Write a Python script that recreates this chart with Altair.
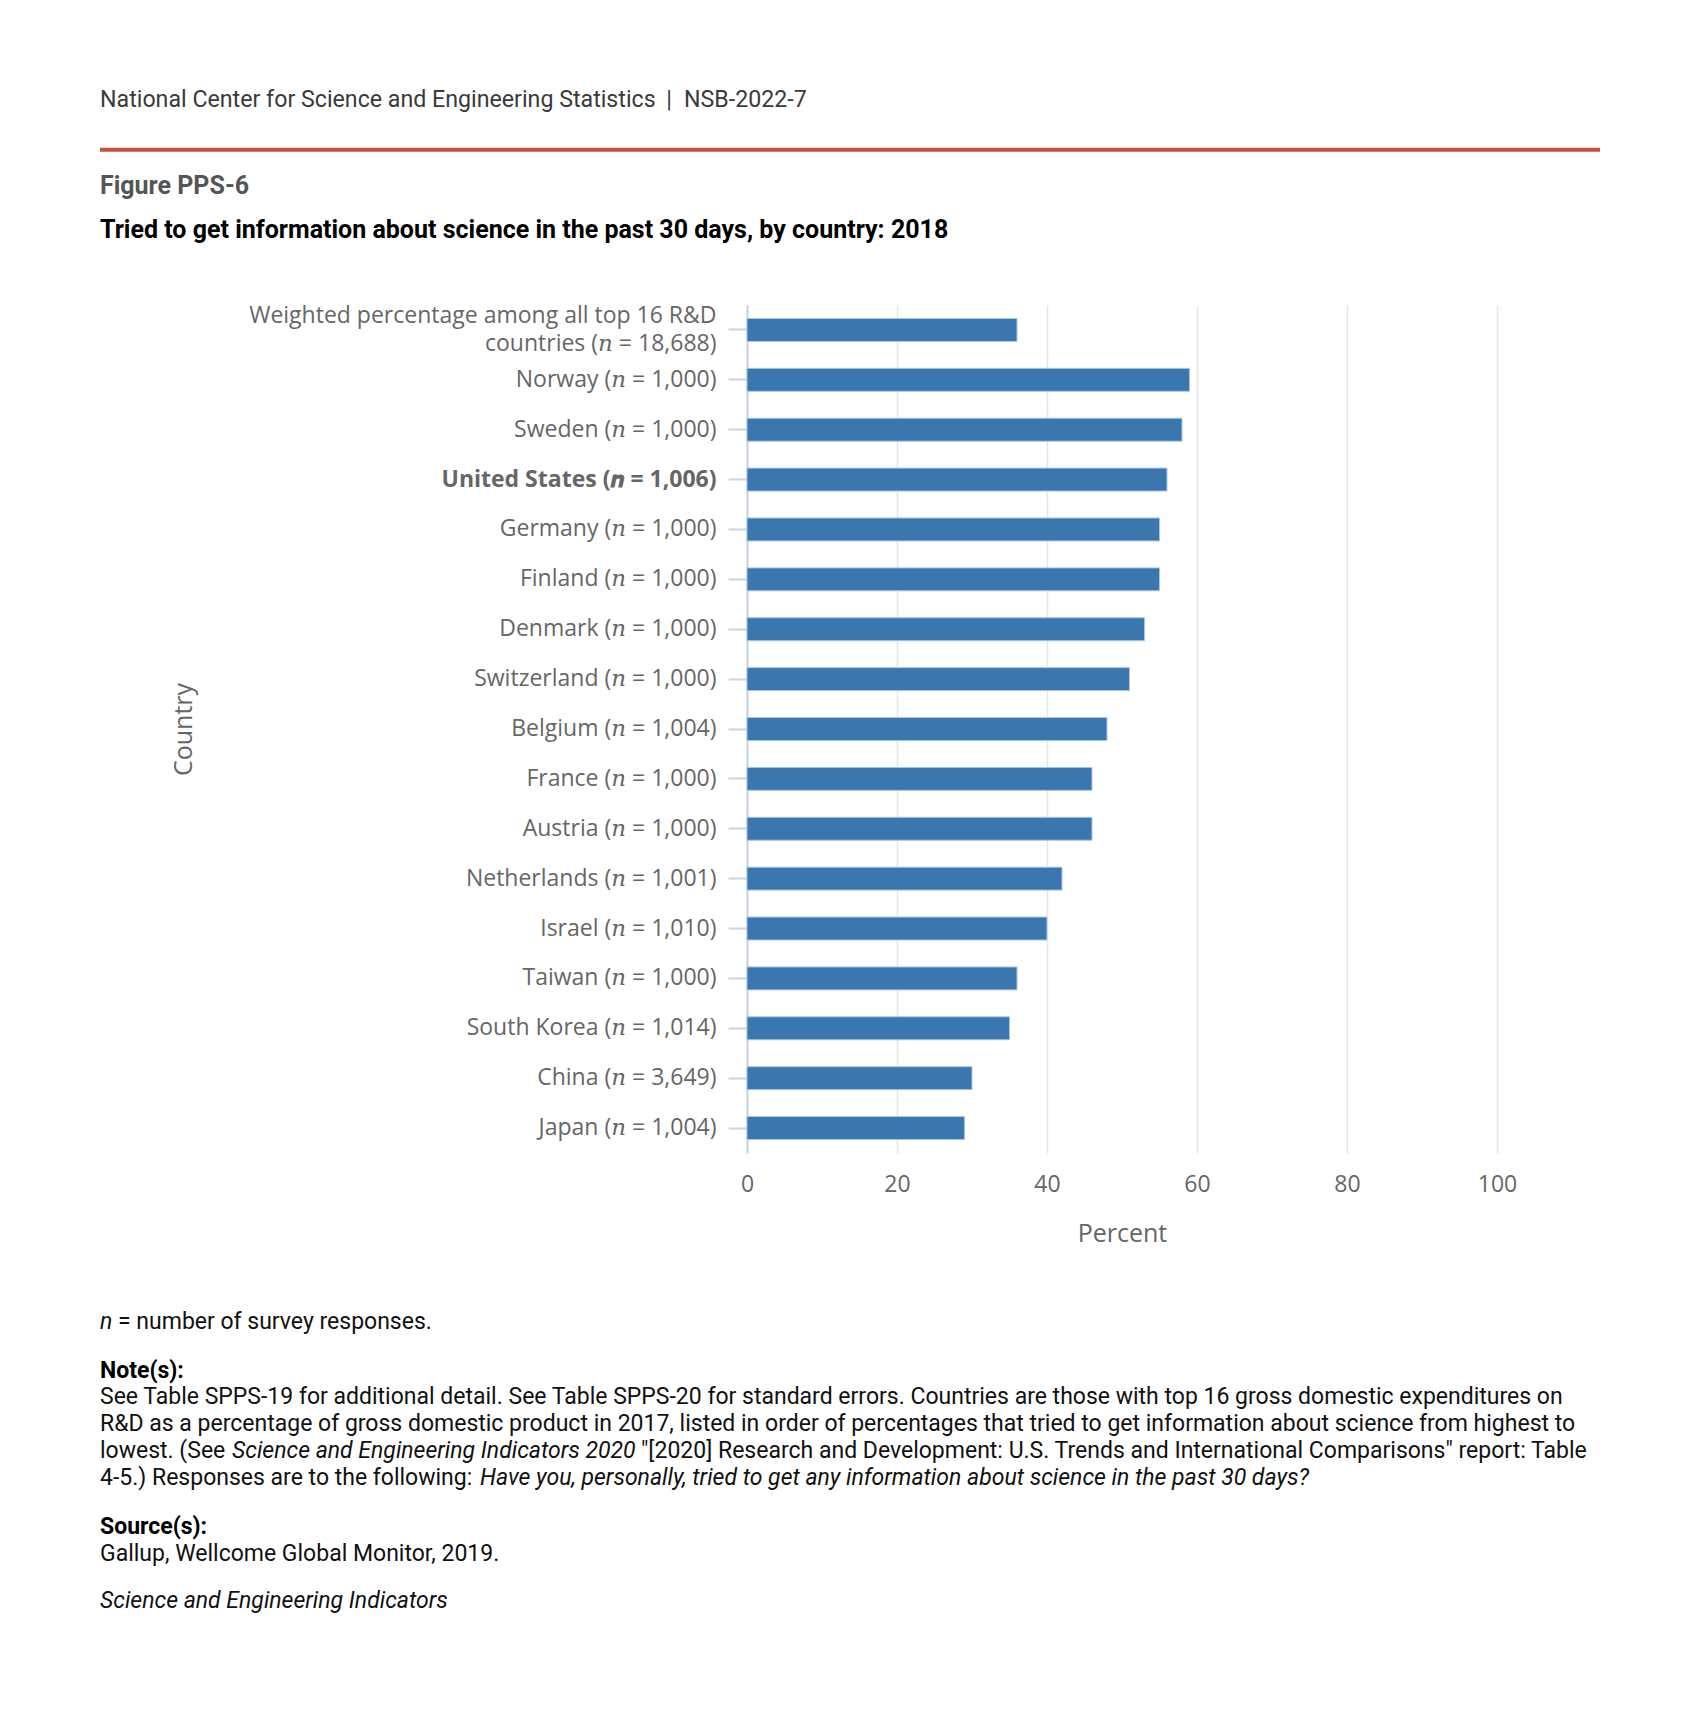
import altair as alt
import pandas as pd

countries = [
    "Weighted percentage among all top 16 R&D|countries (𝑛 = 18,688)",
    "Norway (𝑛 = 1,000)",
    "Sweden (𝑛 = 1,000)",
    "United States (𝒏 = 1,006)",
    "Germany (𝑛 = 1,000)",
    "Finland (𝑛 = 1,000)",
    "Denmark (𝑛 = 1,000)",
    "Switzerland (𝑛 = 1,000)",
    "Belgium (𝑛 = 1,004)",
    "France (𝑛 = 1,000)",
    "Austria (𝑛 = 1,000)",
    "Netherlands (𝑛 = 1,001)",
    "Israel (𝑛 = 1,010)",
    "Taiwan (𝑛 = 1,000)",
    "South Korea (𝑛 = 1,014)",
    "China (𝑛 = 3,649)",
    "Japan (𝑛 = 1,004)",
]
percent = [36, 59, 58, 56, 55, 55, 53, 51, 48, 46, 46, 42, 40, 36, 35, 30, 29]
x_ticks = [0, 20, 40, 60, 80, 100]

header_org = "National Center for Science and Engineering Statistics"
header_sep = "|"
header_id = "NSB-2022-7"
figure_label = "Figure PPS-6"
title = "Tried to get information about science in the past 30 days, by country: 2018"
note_lines = [
    "See Table SPPS-19 for additional detail. See Table SPPS-20 for standard errors. Countries are those with top 16 gross domestic expenditures on",
    "R&D as a percentage of gross domestic product in 2017, listed in order of percentages that tried to get information about science from highest to",
]
note_l3a = "lowest. (See"
note_l3b = "Science and Engineering Indicators 2020"
note_l3c = "\"[2020] Research and Development: U.S. Trends and International Comparisons\" report: Table"
note_l4a = "4-5.) Responses are to the following:"
note_l4b = "Have you, personally, tried to get any information about science in the past 30 days?"
source_text = "Gallup, Wellcome Global Monitor, 2019."
sei_text = "Science and Engineering Indicators"

df = pd.DataFrame({"country": countries, "percent": percent})

OX, OY = 747, 305  # plot origin on the page

LABEL_GRAY = "#666666"
AXIS_BLUE = "#c8d4e3"
FOOT = 23

bars = alt.Chart(df).mark_bar(
    color="#3b76af", stroke="#a9c6e8", strokeWidth=1
).encode(
    x=alt.X(
        "percent:Q",
        scale=alt.Scale(domain=[0, 100], nice=False),
        axis=alt.Axis(
            values=x_ticks,
            title="Percent",
            grid=True,
            gridColor="#e6e6e6",
            gridWidth=1.5,
            domain=False,
            ticks=False,
            tickSize=0,
            labelFlush=False,
            labelPadding=31,
            labelBaseline="middle",
            labelFont="Open Sans",
            labelFontSize=23,
            labelColor=LABEL_GRAY,
            titleFont="Open Sans",
            titleFontSize=25,
            titleFontWeight="normal",
            titleColor=LABEL_GRAY,
            titleX=375,
            titleY=80,
            titleBaseline="middle",
            titleAlign="center",
        ),
    ),
    y=alt.Y(
        "country:N",
        sort=None,
        scale=alt.Scale(paddingInner=0.54, paddingOuter=0.27),
        axis=alt.Axis(
            title="Country",
            titleX=-564,
            titleY=424,
            titleAngle=-90,
            titleAlign="center",
            titleBaseline="middle",
            titleFont="Open Sans",
            titleFontSize=25,
            titleFontWeight="normal",
            titleColor=LABEL_GRAY,
            labelExpr="split(datum.label, '|')",
            labelLineHeight=28.6,
            labelOffset={
                "condition": {"test": "indexof(datum.value, '|') >= 0", "value": -14.3},
                "value": 0,
            },
            labelFont="Open Sans, DejaVu Serif",
            labelFontSize=23,
            labelColor=LABEL_GRAY,
            labelFontWeight={
                "condition": {"test": "indexof(datum.value, 'United States') >= 0", "value": "bold"},
                "value": "normal",
            },
            labelPadding=12,
            labelLimit=700,
            tickSize=19,
            tickColor=AXIS_BLUE,
            tickWidth=2,
            domainColor=AXIS_BLUE,
            domainWidth=2,
            grid=False,
        ),
    ),
)


def txt(s, x, y, size=FOOT, weight="normal", style="normal", color="#111111",
        font="Roboto", align="left"):
    return alt.Chart(pd.DataFrame({"t": [s]})).mark_text(
        align=align, baseline="middle", font=font, fontSize=size,
        fontWeight=weight, fontStyle=style, color=color,
    ).encode(x=alt.value(x - OX), y=alt.value(y - OY), text="t:N")


rule = alt.Chart(pd.DataFrame({"a": [0]})).mark_rule(
    color="#c9503c", strokeWidth=4
).encode(x=alt.value(100 - OX), x2=alt.value(1600 - OX), y=alt.value(149.7 - OY))

texts = [
    txt(header_org, 100, 100, size=23.2, color="#3a3a3a"),
    txt(header_sep, 669, 100, size=23.2, color="#3a3a3a", align="center"),
    txt(header_id, 684, 100, size=23.2, color="#3a3a3a"),
    txt(figure_label, 100, 186, size=25, weight="bold", color="#555555"),
    txt(title, 100, 230, size=25, weight="bold", color="#000000"),
    txt("n", 100, 1322, style="italic"),
    txt("= number of survey responses.", 118, 1322),
    txt("Note(s):", 100, 1370.5, weight="bold", color="#000000"),
    txt(note_lines[0], 100, 1397),
    txt(note_lines[1], 100, 1424.3),
    txt(note_l3a, 100, 1450.7),
    txt(note_l3b, 232, 1450.7, style="italic"),
    txt(note_l3c, 641, 1450.7),
    txt(note_l4a, 100, 1478.2),
    txt(note_l4b, 480, 1478.2, style="italic"),
    txt("Source(s):", 100, 1526.5, weight="bold", color="#000000"),
    txt(source_text, 100, 1554),
    txt(sei_text, 100, 1601.3, style="italic"),
]

chart = alt.layer(bars, rule, *texts).properties(
    width=750,
    height=848,
    padding={"left": OX - 8, "top": OY - 8, "right": 191, "bottom": 555},
    autosize=alt.AutoSizeParams(type="none"),
).configure_view(stroke=None)

chart.save("out.html", embed_options={"renderer": "svg", "actions": False})
